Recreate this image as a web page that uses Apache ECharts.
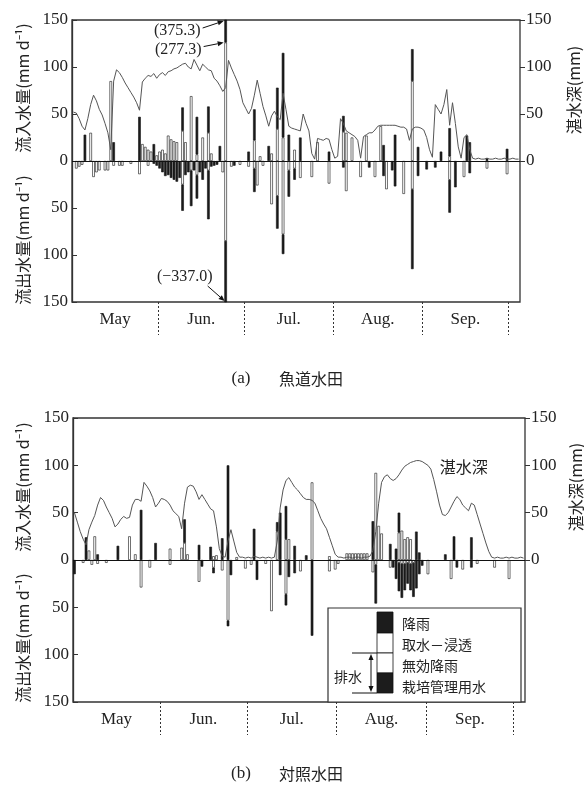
<!DOCTYPE html>
<html><head><meta charset="utf-8">
<script src="https://cdn.jsdelivr.net/npm/echarts@6/dist/echarts.min.js"></script>
<style>html,body{margin:0;padding:0;background:#fff}#c{width:584px;height:785px}</style>
</head><body><div id="c"></div>
<script>
// ---- categories: daily, May 2 – Oct 4 ----
const MONTH_LEN = {5:31,6:30,7:31,8:31,9:30,10:31};
const DAYS = [];
(function(){let m=5,d=2;for(let i=0;i<156;i++){DAYS.push(m+'/'+d);d++;if(d>MONTH_LEN[m]){m++;d=1;}}})();
const MONTHS = ['May','Jun.','Jul.','Aug.','Sep.'];
const MONTH_BOUNDS = [30,60,91,122,152];      // day index where a new month starts
const MONTH_MIDS = [15,45,75.5,106.5,137];
const Y_TICKS = [-150,-100,-50,0,50,100,150];

// ---- (a) 魚道水田 : [day index, value] (mm/d) ----
const A_INTAKE = [[6,30],[13,85],[24,18],[25,15],[26,12],[27,10],[29,6],[30,10],[31,12],[32,8],[33,27],[34,23],[35,21],[36,20],[38,32],[39,20],[41,69],[43,7],[45,25],[47,30],[48,8],[53,126],
 [63,22],[65,5],[69,8],[71,34],[73,25],[77,12],[85,20],[94,31],[95,30],[97,25],[102,27],[107,37],[118,85],[131,5]];
const A_RAIN = [[4,28],[14,20],[23,47],[28,18],[38,25],[43,40],[47,28],[51,16],[53,249.3],
 [61,10],[63,33],[68,16],[71,44],[73,90],[75,28],[79,25],[89,10],
 [94,17],[108,17],[112,28],[118,34],[120,15],[128,10],[131,30],[137,27],[138,20],[144,3],[151,13]];
const A_INEFF = [[1,-8],[2,-6],[3,-4],[7,-17],[8,-12],[9,-10],[11,-10],[12,-10],[14,-5],[16,-5],[17,-5],[20,-3],[23,-14],[26,-5],[38,-25],[41,-10],[43,-15],[47,-10],[52,-12],[53,-85],
 [55,-6],[58,-4],[61,-6],[63,-8],[64,-26],[66,-5],[69,-46],[71,-37],[73,-78],[75,-10],[77,-8],[79,-18],[83,-17],[89,-24],
 [95,-32],[100,-17],[105,-17],[109,-30],[115,-35],[118,-30],[131,-20],[136,-17],[144,-8],[151,-14]];
const A_MGMT = [[28,-3],[29,-5],[30,-8],[31,-12],[32,-16],[33,-15],[34,-18],[35,-20],[36,-22],[37,-18],[38,-28],[39,-15],[40,-12],[41,-38],[42,-10],[43,-25],[44,-12],[45,-20],[46,-8],[47,-52],[48,-6],[49,-5],[50,-4],[53,-252],
 [56,-5],[63,-25],[71,-35],[73,-21],[75,-28],[77,-12],
 [94,-7],[103,-7],[108,-16],[111,-10],[112,-27],[118,-85],[120,-16],[123,-9],[126,-7],[131,-35],[133,-28],[138,-13]];
const A_DEPTH = [52,51,45,37,33,45,60,70,64,55,
 49,40,30,12,85,97,94,89,83,78,
 73,68,62,54,84,88,91,90,93,88,
 92,94,91,95,96,98,99,101,103,104,
 100,98,108,102,96,103,100,97,96,88,
 85,80,74,78,107,99,92,85,76,62,
 56,50,56,70,86,72,58,48,37,48,
 53,47,44,72,55,37,35,34,33,32,
 50,40,32,8,2,24,23,22,24,23,
 12,3,5,45,40,32,30,28,26,22,
 3,26,28,30,30,33,37,38,38,38,
 38,38,38,37,36,36,34,22,34,36,
 36,35,33,25,12,4,60,55,50,60,
 76,38,62,40,15,3,25,28,12,3,
 2,3,2,2,3,2,2,3,2,2,3,2,2,3,2,2];
const A_NOTES = ['(375.3)','(277.3)','(\u2212337.0)'];

// ---- (b) 対照水田 ----
const B_INTAKE = [[5,10],[7,25],[19,25],[21,6],[33,12],[37,13],[38,18],[39,6],[48,4],[49,5],[56,3],[70,30],[73,22],[74,22],[82,82],[88,4],[94,7],[95,7],[96,7],[97,7],[98,7],[99,7],[100,7],[101,7],[104,92],[105,36],[106,28],[112,29],[113,31],[114,22],[115,24],[116,22]];
const B_RAIN = [[4,24],[8,6],[15,15],[23,53],[28,18],[38,25],[43,16],[47,14],[51,23],[53,100],[62,33],[70,10],[71,50],[73,35],[76,15],[80,5],[103,41],[109,17],[111,12],[112,21],[118,30],[119,8],[128,6],[131,25],[137,24]];
const B_INEFF = [[3,-3],[6,-5],[8,-4],[11,-3],[23,-29],[26,-8],[33,-5],[43,-23],[48,-8],[51,-11],[53,-64],[59,-9],[61,-5],[66,-4],[68,-54],[73,-36],[78,-12],[88,-12],[90,-10],[91,-4],[103,-13],[104,-5],[109,-8],[112,-3],[113,-4],[114,-4],[115,-3],[116,-4],[117,-3],[122,-15],[130,-20],[134,-10],[139,-4],[145,-8],[150,-20]];
const B_MGMT = [[0,-15],[44,-7],[48,-6],[53,-6],[54,-16],[63,-21],[71,-16],[73,-12],[74,-18],[76,-14],[82,-80],[104,-41],[110,-8],[111,-20],[112,-30],[113,-36],[114,-28],[115,-22],[116,-28],[117,-36],[118,-30],[119,-15],[120,-6],[132,-8],[137,-8]];
const B_DEPTH = [50,40,30,22,16,32,40,47,58,66,
 63,56,50,44,35,38,43,46,44,45,
 58,64,64,62,82,78,73,66,56,60,
 65,64,62,58,52,49,46,33,60,77,
 79,78,72,64,69,64,59,54,52,35,
 12,4,3,20,32,20,8,3,3,2,
 3,2,4,3,2,3,2,3,2,3,
 20,55,74,84,87,82,77,74,70,66,
 64,64,63,60,52,44,38,33,24,15,
 6,3,3,2,3,3,2,3,3,2,
 3,3,4,10,30,60,82,88,90,86,
 84,86,90,95,99,101,103,104,105,105,
 104,102,100,96,85,72,58,48,47,50,
 56,62,67,64,58,55,52,60,58,48,
 38,28,18,9,3,2,3,2,2,3,2,3,2,2,3,2];

const LEGEND = ['降雨','取水－浸透','無効降雨','栽培管理用水'];

// ---- helpers ----
function dense(pairs){const a=new Array(DAYS.length).fill(null);pairs.forEach(p=>{a[p[0]]=p[1];});return a;}
const SERIF='Liberation Serif', CJK='"Noto Sans CJK JP"';
const INK='#1c1c1c';
const chart = echarts.init(document.getElementById('c'), null, {renderer:'canvas'});

const grids=[
 {left:72,right:64,top:20,height:282,show:true,borderColor:'#333',borderWidth:1.3,backgroundColor:'transparent'},
 {left:72,right:64,top:20,height:141},
 {left:73,right:59,top:418,height:284,show:true,borderColor:'#333',borderWidth:1.3,backgroundColor:'transparent'},
 {left:73,right:59,top:418,height:142}
];
function catAxis(g){return {type:'category',gridIndex:g,data:DAYS,show:false,boundaryGap:true};}
function monthAxis(g){return {type:'value',gridIndex:g,min:0,max:DAYS.length,position:'bottom',
 axisLine:{show:false},splitLine:{show:false},
 axisTick:{show:true,customValues:MONTH_BOUNDS,length:33,lineStyle:{type:[2,2],color:'#333',width:1}},
 axisLabel:{customValues:MONTH_MIDS,formatter:v=>MONTHS[MONTH_MIDS.indexOf(v)]||'',margin:9,fontFamily:SERIF,fontSize:17,color:'#222'}};}
function leftAxis(g){return {type:'value',gridIndex:g,min:-150,max:150,interval:50,position:'left',
 axisLine:{show:true,lineStyle:{color:'#333',width:1.3}},
 axisTick:{show:true,inside:true,length:5,lineStyle:{color:'#333'}},
 axisLabel:{formatter:v=>String(Math.abs(v)),margin:4,fontFamily:SERIF,fontSize:17,color:'#222'},
 splitLine:{show:false}};}
function rightAxis(g){return {type:'value',gridIndex:g,min:0,max:150,interval:50,position:'right',
 axisLine:{show:false},
 axisTick:{show:true,inside:false,length:5,lineStyle:{color:'#333'}},
 axisLabel:{margin:6,fontFamily:SERIF,fontSize:17,color:'#222'},
 splitLine:{show:false}};}

function barSeries(xi,yi,stack,data,fill,withZero){
 const s={type:'bar',xAxisIndex:xi,yAxisIndex:yi,stack:stack,barWidth:'90%',data:dense(data),clip:true,silent:true,
  itemStyle:{color:fill,borderColor:'#111',borderWidth:0.6}};
 if(withZero){s.markLine={silent:true,symbol:['none','none'],label:{show:false},
   lineStyle:{color:'#111',width:1,type:'solid'},data:[{yAxis:0}],animation:false};}
 return s;}
function lineSeries(xi,yi,data){return {type:'line',xAxisIndex:xi,yAxisIndex:yi,data:data,symbol:'none',silent:true,
 lineStyle:{color:'#555',width:1},clip:true};}

chart.setOption({
 animation:false,
 backgroundColor:'#fff',
 grid:grids,
 xAxis:[catAxis(0),monthAxis(0),catAxis(1),catAxis(2),monthAxis(2),catAxis(3)],
 yAxis:[leftAxis(0),rightAxis(1),leftAxis(2),rightAxis(3)],
 series:[
  barSeries(0,0,'a',A_INTAKE,'#ffffff',true),
  barSeries(0,0,'a',A_RAIN,INK),
  barSeries(0,0,'a',A_INEFF,'#ffffff'),
  barSeries(0,0,'a',A_MGMT,INK),
  lineSeries(2,1,A_DEPTH),
  barSeries(3,2,'b',B_INTAKE,'#ffffff',true),
  barSeries(3,2,'b',B_RAIN,INK),
  barSeries(3,2,'b',B_INEFF,'#ffffff'),
  barSeries(3,2,'b',B_MGMT,INK),
  lineSeries(5,3,B_DEPTH)
 ]
});

// ---- annotations (text, arrows, legend) ----
function txt(x,y,text,font,opts){opts=opts||{};const al=opts.align||'center';
 return {type:'text',x:x,y:y,rotation:opts.rot||0,z:100,silent:true,
  style:{text:text,fill:'#222',font:font,align:al,textAlign:al,verticalAlign:'middle',textVerticalAlign:'middle'}};}
function arrowEls(x1,y1,x2,y2,size){const dx=x2-x1,dy=y2-y1,L=Math.hypot(dx,dy),ux=dx/L,uy=dy/L;
 const bx=x2-ux*size,by=y2-uy*size,w=size*0.42;
 return [{type:'line',z:100,silent:true,shape:{x1:x1,y1:y1,x2:bx,y2:by},style:{stroke:'#111',lineWidth:1}},
  {type:'polygon',z:100,silent:true,shape:{points:[[x2,y2],[bx-uy*w,by+ux*w],[bx+uy*w,by-ux*w]]},style:{fill:'#111'}}];}

const g=[];
const ROT=Math.PI/2;
const nameFont='16px '+CJK;
// panel (a)
g.push(txt(23,88,'流入水量(mm d\u207B\u00B9)',nameFont,{rot:ROT}));
g.push(txt(23,240,'流出水量(mm d\u207B\u00B9)',nameFont,{rot:ROT}));
g.push(txt(574,90,'湛水深(mm)',nameFont,{rot:ROT}));
g.push(txt(241,379,'(a)','17px '+SERIF));
g.push(txt(311,379,'魚道水田','16px '+CJK));
// panel (b)
g.push(txt(23,487,'流入水量(mm d\u207B\u00B9)',nameFont,{rot:ROT}));
g.push(txt(23,638,'流出水量(mm d\u207B\u00B9)',nameFont,{rot:ROT}));
g.push(txt(576,487,'湛水深(mm)',nameFont,{rot:ROT}));
g.push(txt(241,774,'(b)','17px '+SERIF));
g.push(txt(311,774,'対照水田','16px '+CJK));
// depth label on line (b)
const lblPt = chart.convertToPixel({xAxisIndex:5,yAxisIndex:3},[124,B_DEPTH[117]]);
g.push(txt(lblPt[0]+30,lblPt[1]+5,'湛水深','16px '+CJK));

// off-scale bar annotation in (a)
let big=0; A_INTAKE.forEach(p=>{ if(p[1]>=A_INTAKE[big>=0?0:0][1] && p[1]>100) big=p[0]; });
const intakeBig = dense(A_INTAKE)[big];
const px=(i,v)=>chart.convertToPixel({xAxisIndex:0,yAxisIndex:0},[i,v]);
const bx=px(big,0)[0], yTop=px(big,150)[1], yMid=px(big,intakeBig)[1], yBot=px(big,-150)[1];
g.push(txt(bx-25,yTop+11,A_NOTES[0],'16px '+SERIF,{align:'right'}));
g.push(...arrowEls(bx-23,yTop+8,bx-2,yTop+1,6));
g.push(txt(bx-24,yMid+7,A_NOTES[1],'16px '+SERIF,{align:'right'}));
g.push(...arrowEls(bx-22,yMid+4,bx-2,yMid,6));
g.push(txt(bx-13,yBot-25,A_NOTES[2],'16px '+SERIF,{align:'right'}));
g.push(...arrowEls(bx-18,yBot-16,bx-1,yBot-1,6));

// legend box (b)
const LX=328, LY=608, LW=193, LH=94;
g.push({type:'rect',z:90,silent:true,shape:{x:LX,y:LY,width:LW,height:LH},style:{fill:'#fff',stroke:'#333',lineWidth:1.2}});
const sw=[[612,21,INK],[633,20,'#fff'],[653,20,'#fff'],[673,20,INK]];
sw.forEach(s=>g.push({type:'rect',z:95,silent:true,shape:{x:377,y:s[0],width:16,height:s[1]},style:{fill:s[2],stroke:'#111',lineWidth:0.8}}));
g.push({type:'line',z:95,silent:true,shape:{x1:352,y1:653,x2:377,y2:653},style:{stroke:'#111',lineWidth:1}});
g.push({type:'line',z:95,silent:true,shape:{x1:352,y1:693,x2:377,y2:693},style:{stroke:'#111',lineWidth:1}});
g.push(...arrowEls(371,673,371,654,6).map(e=>Object.assign(e,{z:96})));
g.push(...arrowEls(371,673,371,692,6).map(e=>Object.assign(e,{z:96})));
g.push(Object.assign(txt(348,677,'排水','14px '+CJK),{z:96}));
const ly=[624,645,666,687];
LEGEND.forEach((t,k)=>g.push(Object.assign(txt(402,ly[k],t,'14px '+CJK,{align:'left'}),{z:96})));

chart.setOption({graphic:g});
</script></body></html>
